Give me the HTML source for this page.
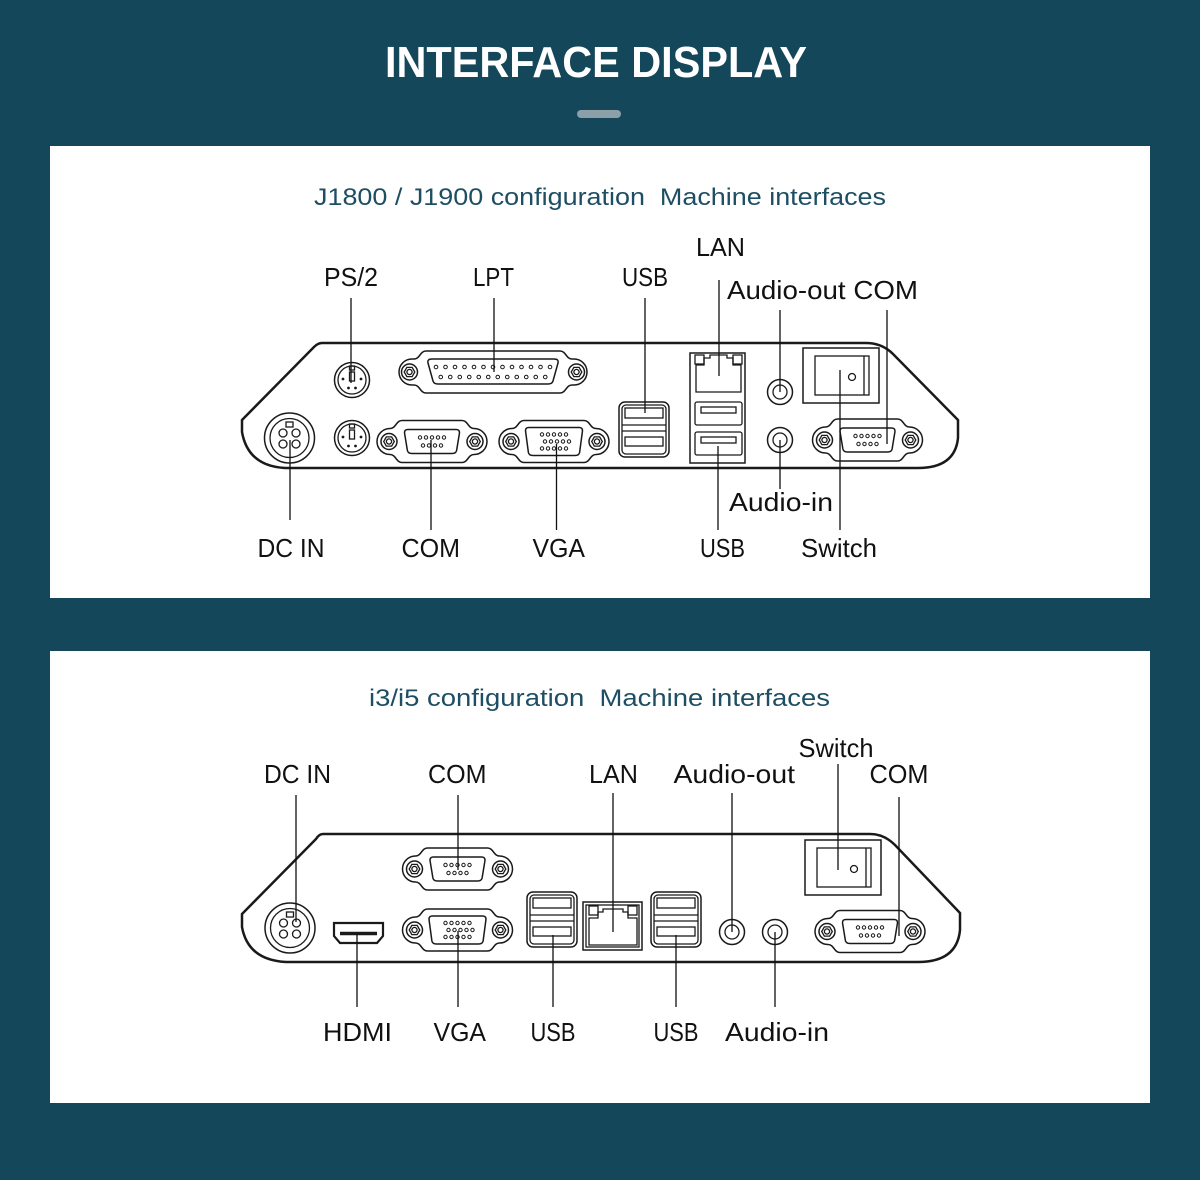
<!DOCTYPE html>
<html><head><meta charset="utf-8"><style>
html,body{margin:0;padding:0;background:#15475b;}
svg{display:block;}
.s{fill:#fff;stroke:#1a1a1a;stroke-width:1.5;}
.n{fill:none;stroke:#1a1a1a;stroke-width:1.3;}
.p{fill:none;stroke:#1a1a1a;stroke-width:1;}
.l{stroke:#111;stroke-width:1.3;}
.t{font-family:"Liberation Sans",Arial,sans-serif;font-size:26px;fill:#111;}
.sub{font-family:"Liberation Sans",Arial,sans-serif;font-size:24px;fill:#1d4e63;white-space:pre;}
</style></head><body>
<svg width="1200" height="1180" viewBox="0 0 1200 1180" xmlns="http://www.w3.org/2000/svg">
<defs>
<g id="scr"><circle r="8" class="s"/><polygon points="5.3,0 2.65,4.6 -2.65,4.6 -5.3,0 -2.65,-4.6 2.65,-4.6" class="n"/><circle r="2.6" class="n"/></g>
<path id="dbo" d="M-30,-21 H30 C36,-21 36,-13 42,-13 A13,13 0 0 1 42,13 C36,13 36,21 30,21 H-30 C-36,21 -36,13 -42,13 A13,13 0 0 1 -42,-13 C-36,-13 -36,-21 -30,-21 Z"/>
<g id="db9">
<use href="#dbo" class="s"/>
<path d="M-24,-12 H24 Q28,-12 27.4,-8 L24.6,9 Q24,12 20,12 H-20 Q-24,12 -24.6,9 L-27.4,-8 Q-28,-12 -24,-12 Z" class="s"/>
<g class="p"><circle cx="-12" cy="-4" r="1.7"/><circle cx="-6" cy="-4" r="1.7"/><circle cx="0" cy="-4" r="1.7"/><circle cx="6" cy="-4" r="1.7"/><circle cx="12" cy="-4" r="1.7"/><circle cx="-9" cy="4" r="1.7"/><circle cx="-3" cy="4" r="1.7"/><circle cx="3" cy="4" r="1.7"/><circle cx="9" cy="4" r="1.7"/></g>
<use href="#scr" x="-43"/><use href="#scr" x="43"/>
</g>
<g id="db15">
<use href="#dbo" class="s"/>
<path d="M-25,-14 H25 Q29,-14 28.4,-10 L25.6,11 Q25,14 21,14 H-21 Q-25,14 -25.6,11 L-28.4,-10 Q-29,-14 -25,-14 Z" class="s"/>
<g class="p"><circle cx="-12" cy="-7" r="1.7"/><circle cx="-6" cy="-7" r="1.7"/><circle cx="0" cy="-7" r="1.7"/><circle cx="6" cy="-7" r="1.7"/><circle cx="12" cy="-7" r="1.7"/><circle cx="-9" cy="0" r="1.7"/><circle cx="-3" cy="0" r="1.7"/><circle cx="3" cy="0" r="1.7"/><circle cx="9" cy="0" r="1.7"/><circle cx="15" cy="0" r="1.7"/><circle cx="-12" cy="7" r="1.7"/><circle cx="-6" cy="7" r="1.7"/><circle cx="0" cy="7" r="1.7"/><circle cx="6" cy="7" r="1.7"/><circle cx="12" cy="7" r="1.7"/></g>
<use href="#scr" x="-43"/><use href="#scr" x="43"/>
</g>
<g id="db25">
<path d="M-67,-21 H67 C73,-21 73,-13 79,-13 H81 A13,13 0 0 1 81,13 H79 C73,13 73,21 67,21 H-67 C-73,21 -73,13 -79,13 H-81 A13,13 0 0 1 -81,-13 H-79 C-73,-13 -73,-21 -67,-21 Z" class="s"/>
<path d="M-61,-13 H61 Q66,-13 65,-9 L60,9 Q59,12 55,12 H-55 Q-59,12 -60,9 L-65,-9 Q-66,-13 -61,-13 Z" class="s"/>
<g class="p"><circle cx="-57" cy="-5" r="1.8"/><circle cx="-47.5" cy="-5" r="1.8"/><circle cx="-38" cy="-5" r="1.8"/><circle cx="-28.5" cy="-5" r="1.8"/><circle cx="-19" cy="-5" r="1.8"/><circle cx="-9.5" cy="-5" r="1.8"/><circle cx="0" cy="-5" r="1.8"/><circle cx="9.5" cy="-5" r="1.8"/><circle cx="19" cy="-5" r="1.8"/><circle cx="28.5" cy="-5" r="1.8"/><circle cx="38" cy="-5" r="1.8"/><circle cx="47.5" cy="-5" r="1.8"/><circle cx="57" cy="-5" r="1.8"/>
<circle cx="-52.25" cy="5" r="1.8"/><circle cx="-42.75" cy="5" r="1.8"/><circle cx="-33.25" cy="5" r="1.8"/><circle cx="-23.75" cy="5" r="1.8"/><circle cx="-14.25" cy="5" r="1.8"/><circle cx="-4.75" cy="5" r="1.8"/><circle cx="4.75" cy="5" r="1.8"/><circle cx="14.25" cy="5" r="1.8"/><circle cx="23.75" cy="5" r="1.8"/><circle cx="33.25" cy="5" r="1.8"/><circle cx="42.75" cy="5" r="1.8"/><circle cx="52.25" cy="5" r="1.8"/></g>
<use href="#scr" x="-83.5"/><use href="#scr" x="83.5"/>
</g>
<g id="ps2">
<circle r="17.5" class="s"/><circle r="14" class="n"/>
<rect x="-2.5" y="-14" width="5" height="4" class="n"/>
<rect x="-2.5" y="-8" width="5" height="9" class="n"/>
<circle cx="-9" cy="-1" r="1.4" fill="#1a1a1a"/><circle cx="9" cy="-1" r="1.4" fill="#1a1a1a"/>
<circle cx="-3.5" cy="8" r="1.4" fill="#1a1a1a"/><circle cx="3.5" cy="8" r="1.4" fill="#1a1a1a"/>
</g>
<g id="dc">
<circle r="25" class="s" stroke-width="1.8"/><circle r="19.5" class="n" stroke-width="1.8"/>
<rect x="-3.5" y="-16" width="7" height="5" class="n"/>
<circle cx="-6.5" cy="-5" r="4" class="n" stroke-width="1.6"/><circle cx="6.5" cy="-5" r="4" class="n" stroke-width="1.6"/>
<circle cx="-6.5" cy="6" r="4" class="n" stroke-width="1.6"/><circle cx="6.5" cy="6" r="4" class="n" stroke-width="1.6"/>
</g>
<g id="aud"><circle r="12.5" class="s" stroke-width="1.6"/><circle r="7" class="n" stroke-width="1.6"/></g>
<g id="usb2">
<rect x="0" y="0" width="50" height="55" rx="6" class="s"/>
<rect x="3" y="3" width="44" height="49" rx="4" class="n"/>
<rect x="6" y="6" width="38" height="10" class="n"/>
<line x1="3" y1="23" x2="47" y2="23" class="n"/>
<line x1="3" y1="29" x2="47" y2="29" class="n"/>
<rect x="6" y="35" width="38" height="9" class="n"/>
</g>
<g id="sw">
<rect x="0" y="0" width="76" height="55" class="s"/>
<rect x="12" y="8" width="54" height="39" class="n"/>
<line x1="61" y1="8" x2="61" y2="47" class="n"/>
<circle cx="49" cy="29" r="3.5" class="n"/>
</g>
</defs>

<rect width="1200" height="1180" fill="#15475b"/>
<text x="385" y="77" font-family="Liberation Sans,Arial,sans-serif" font-size="44" font-weight="bold" fill="#fff" textLength="422" lengthAdjust="spacingAndGlyphs">INTERFACE DISPLAY</text>
<rect x="577" y="110" width="44" height="8" rx="4" fill="#8d9fa9"/>

<!-- Panel 1 -->
<rect x="50" y="146" width="1100" height="452" fill="#fff"/>
<text x="314" y="205" class="sub" textLength="572" lengthAdjust="spacingAndGlyphs">J1800 / J1900 configuration  Machine interfaces</text>

<path d="M322,343 H866 Q882,343 893,354 L958,420 V438 Q955,468 918,468 H285 Q248,466 242,432 V420 L314,347 Q318,343 322,343 Z" fill="#fff" stroke="#1a1a1a" stroke-width="2.5"/>

<use href="#dc" x="289.5" y="438"/>
<use href="#ps2" x="352" y="380"/>
<use href="#ps2" x="352" y="438"/>
<use href="#db25" x="493" y="372"/>
<use href="#db9" x="432" y="441.5"/>
<use href="#db15" x="554" y="441.5"/>
<use href="#usb2" x="619" y="402"/>
<!-- LAN column -->
<rect x="690" y="353" width="55" height="110" class="s"/>
<path d="M696,365 H704 V358 H710 V355 H727 V358 H733 V365 H741 V392 H696 Z" class="n"/>
<rect x="695" y="355" width="9" height="9" class="n"/>
<rect x="733" y="355" width="9" height="9" class="n"/>
<rect x="695" y="402" width="47" height="23" rx="2" class="n"/>
<rect x="701" y="407" width="35" height="6" class="n"/>
<rect x="695" y="432" width="47" height="23" rx="2" class="n"/>
<rect x="701" y="437" width="35" height="6" class="n"/>
<use href="#aud" x="780" y="392"/>
<use href="#aud" x="780" y="440"/>
<use href="#sw" x="803" y="348"/>
<use href="#db9" x="867.5" y="440"/>

<g class="l">
<line x1="351" y1="298" x2="351" y2="383"/>
<line x1="494" y1="298" x2="494" y2="372"/>
<line x1="645" y1="298" x2="645" y2="413"/>
<line x1="719" y1="280" x2="719" y2="376"/>
<line x1="780" y1="310" x2="780" y2="392"/>
<line x1="887" y1="310" x2="887" y2="444"/>
<line x1="840" y1="370" x2="840" y2="530"/>
<line x1="780" y1="440" x2="780" y2="489"/>
<line x1="718" y1="446" x2="718" y2="530"/>
<line x1="290" y1="440" x2="290" y2="520"/>
<line x1="431" y1="440" x2="431" y2="530"/>
<line x1="556.5" y1="444" x2="556.5" y2="530"/>
</g>

<text class="t" x="324" y="286" textLength="54" lengthAdjust="spacingAndGlyphs">PS/2</text>
<text class="t" x="473" y="286" textLength="41" lengthAdjust="spacingAndGlyphs">LPT</text>
<text class="t" x="622" y="286" textLength="46" lengthAdjust="spacingAndGlyphs">USB</text>
<text class="t" x="696" y="256" textLength="49" lengthAdjust="spacingAndGlyphs">LAN</text>
<text class="t" x="727" y="299" textLength="191" lengthAdjust="spacingAndGlyphs">Audio-out COM</text>
<text class="t" x="729" y="511" textLength="104" lengthAdjust="spacingAndGlyphs">Audio-in</text>
<text class="t" x="257.5" y="557" textLength="67" lengthAdjust="spacingAndGlyphs">DC IN</text>
<text class="t" x="401.5" y="557" textLength="58.5" lengthAdjust="spacingAndGlyphs">COM</text>
<text class="t" x="532.5" y="557" textLength="52.5" lengthAdjust="spacingAndGlyphs">VGA</text>
<text class="t" x="700" y="557" textLength="45" lengthAdjust="spacingAndGlyphs">USB</text>
<text class="t" x="801" y="557" textLength="76" lengthAdjust="spacingAndGlyphs">Switch</text>

<!-- Panel 2 -->
<rect x="50" y="651" width="1100" height="452" fill="#fff"/>
<text x="369" y="706" class="sub" textLength="461" lengthAdjust="spacingAndGlyphs">i3/i5 configuration  Machine interfaces</text>

<path d="M323,834 H870 Q884,834 895,845 L960,913 V930 Q957,962 918,962 H286 Q248,960 242,927 V914 L316,839 Q319,834 323,834 Z" fill="#fff" stroke="#1a1a1a" stroke-width="2.5"/>

<use href="#dc" x="290" y="928"/>
<use href="#db9" x="457.5" y="869"/>
<use href="#db15" x="457.5" y="930"/>
<!-- HDMI -->
<path d="M334,923 H383 V936 L377,943 H340 L334,936 Z" fill="#fff" stroke="#1a1a1a" stroke-width="2.2"/>
<line x1="340" y1="933.5" x2="377" y2="933.5" stroke="#1a1a1a" stroke-width="3.5"/>
<use href="#usb2" x="527" y="892"/>
<use href="#usb2" x="651" y="892"/>
<!-- LAN -->
<rect x="583" y="902" width="59" height="48" class="s" stroke-width="2"/>
<rect x="586" y="905" width="53" height="42" class="n" stroke-width="1"/>
<path d="M589,918 H598 V912 H603 V909 H623 V912 H628 V918 H637 V945 H589 Z" class="n"/>
<rect x="589" y="906" width="9" height="9" class="n"/>
<rect x="628" y="906" width="9" height="9" class="n"/>
<use href="#aud" x="732" y="932"/>
<use href="#aud" x="775" y="932"/>
<use href="#sw" x="805" y="840"/>
<use href="#db9" x="870" y="931.5"/>

<g class="l">
<line x1="296" y1="795" x2="296" y2="922"/>
<line x1="458" y1="795" x2="458" y2="870"/>
<line x1="613" y1="793" x2="613" y2="932"/>
<line x1="732" y1="793" x2="732" y2="932"/>
<line x1="838" y1="764" x2="838" y2="870"/>
<line x1="899" y1="797" x2="899" y2="936"/>
<line x1="357" y1="934" x2="357" y2="1007"/>
<line x1="458" y1="931" x2="458" y2="1007"/>
<line x1="553" y1="935" x2="553" y2="1007"/>
<line x1="676" y1="935" x2="676" y2="1007"/>
<line x1="775" y1="932" x2="775" y2="1007"/>
</g>

<text class="t" x="264" y="783" textLength="67" lengthAdjust="spacingAndGlyphs">DC IN</text>
<text class="t" x="428" y="783" textLength="58.5" lengthAdjust="spacingAndGlyphs">COM</text>
<text class="t" x="589" y="783" textLength="49" lengthAdjust="spacingAndGlyphs">LAN</text>
<text class="t" x="673.5" y="783" textLength="121.5" lengthAdjust="spacingAndGlyphs">Audio-out</text>
<text class="t" x="798.5" y="757" textLength="75" lengthAdjust="spacingAndGlyphs">Switch</text>
<text class="t" x="869.5" y="783" textLength="59" lengthAdjust="spacingAndGlyphs">COM</text>
<text class="t" x="323" y="1041" textLength="69" lengthAdjust="spacingAndGlyphs">HDMI</text>
<text class="t" x="433.5" y="1041" textLength="52.5" lengthAdjust="spacingAndGlyphs">VGA</text>
<text class="t" x="530.5" y="1041" textLength="45" lengthAdjust="spacingAndGlyphs">USB</text>
<text class="t" x="653.5" y="1041" textLength="45" lengthAdjust="spacingAndGlyphs">USB</text>
<text class="t" x="725" y="1041" textLength="104" lengthAdjust="spacingAndGlyphs">Audio-in</text>
</svg>
</body></html>
